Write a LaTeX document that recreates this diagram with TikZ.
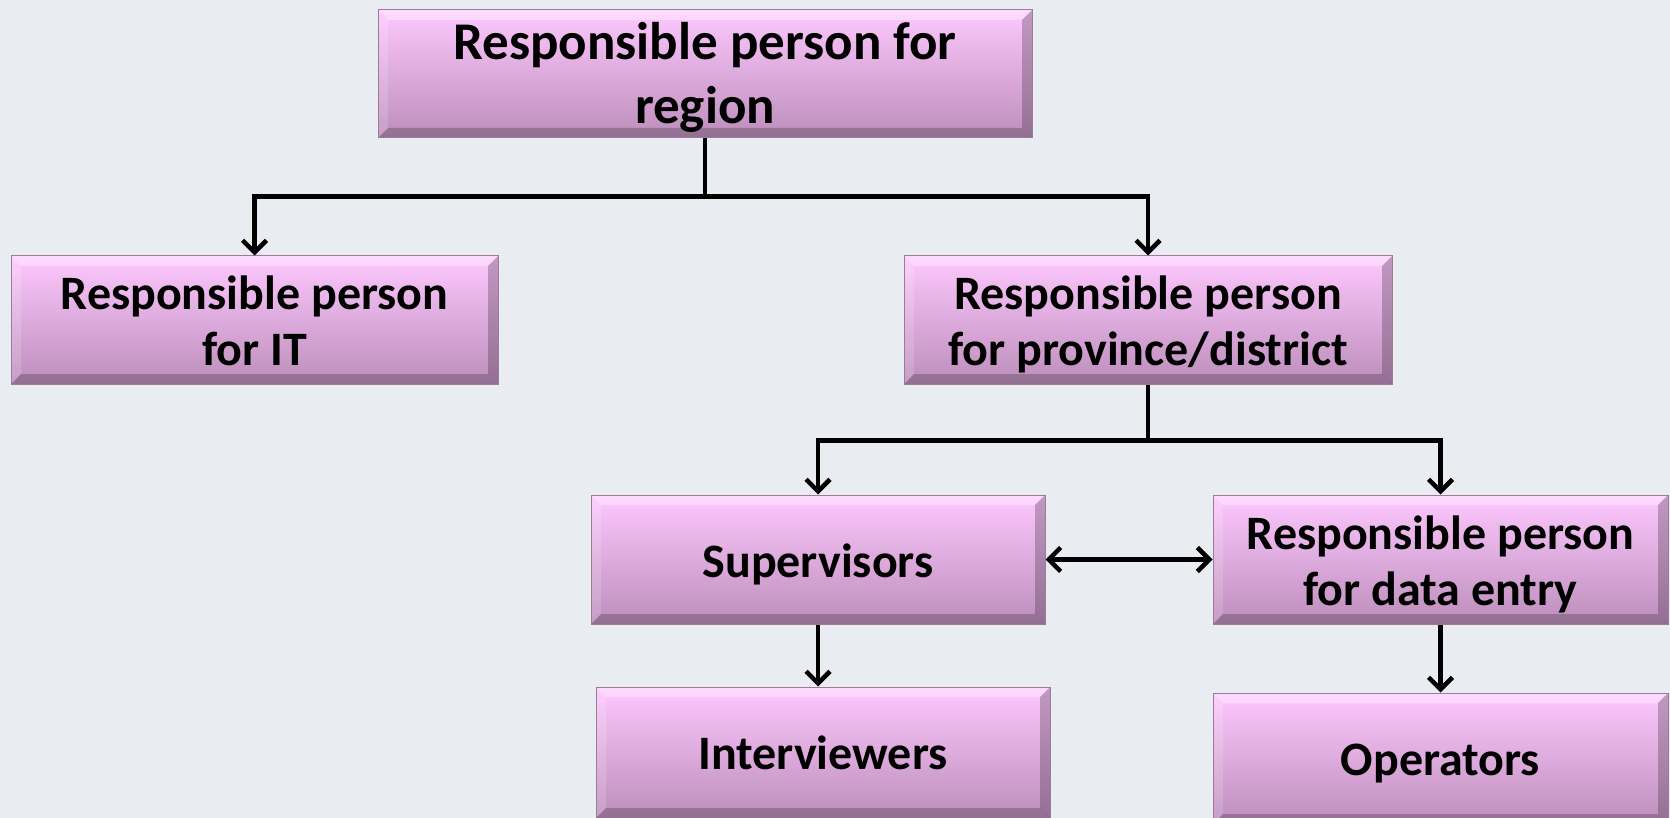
\documentclass[tikz,border=0pt]{standalone}
\usepackage{fontspec}
\setmainfont{Carlito}
\usetikzlibrary{arrows.meta}
\definecolor{bg}{HTML}{E9ECF1}
\definecolor{boxtop}{HTML}{FEC8FE}
\definecolor{boxbot}{HTML}{BC8EBB}
\definecolor{boxedge}{HTML}{9C7A9C}
\newcommand\lowtext[2]{\raisebox{-#1}[\height][\depth]{\begin{tabular}{@{}c@{}}#2\end{tabular}}}
\tikzset{
  pbox/.style={draw=boxedge, line width=1pt, top color=boxtop, bottom color=boxbot,
    align=center, font=\bfseries\fontsize{48}{56}\selectfont, inner sep=0pt,
    path picture={
      \coordinate (nw) at (path picture bounding box.north west);
      \coordinate (ne) at (path picture bounding box.north east);
      \coordinate (sw) at (path picture bounding box.south west);
      \coordinate (se) at (path picture bounding box.south east);
      \fill[white,opacity=0.35] (nw) -- (ne) -- ([shift={(-10,10)}]ne) -- ([shift={(10,10)}]nw) -- cycle;
      \fill[white,opacity=0.15] (nw) -- ([shift={(10,10)}]nw) -- ([shift={(10,-10)}]sw) -- (sw) -- cycle;
      \fill[black!70!boxbot,opacity=0.3] (sw) -- (se) -- ([shift={(-10,-10)}]se) -- ([shift={(10,-10)}]sw) -- cycle;
      \fill[black!70!boxbot,opacity=0.3] (ne) -- ([shift={(-10,10)}]ne) -- ([shift={(-10,-10)}]se) -- (se) -- cycle;
    }},
  tip/.tip={Straight Barb[length=12pt,width=24pt,line width=4.5pt]},
  conn/.style={line width=4.5pt, -tip},
  dconn/.style={line width=4.5pt, tip-tip}
}
\begin{document}
\begin{tikzpicture}[x=1pt,y=-1pt]
\fill[bg] (0,0) rectangle (1670,818);
\useasboundingbox (0,0) rectangle (1670,818);

\node[pbox, minimum width=654pt, minimum height=128pt, font=\bfseries\fontsize{53}{64}\selectfont] (top) at (705,74) {\lowtext{5pt}{Responsible person for\\region}};
\node[pbox, minimum width=487pt, minimum height=128pt] (it) at (254.5,320) {\lowtext{6pt}{Responsible person\\for IT}};
\node[pbox, minimum width=488pt, minimum height=128pt] (prov) at (1148,320) {\lowtext{6pt}{Responsible person\\for province/district}};
\node[pbox, minimum width=454pt, minimum height=129pt] (sup) at (818,559.5) {\lowtext{7pt}{Supervisors}};
\node[pbox, minimum width=455pt, minimum height=129pt] (data) at (1440.5,559.5) {\lowtext{7pt}{Responsible person\\for data entry}};
\node[pbox, minimum width=454pt, minimum height=131pt] (intv) at (823,752.5) {Interviewers};
\node[pbox, minimum width=455pt, minimum height=131pt] (ops) at (1440.5,758.5) {\lowtext{6pt}{Operators}};

\draw[conn] (top.south) -- ++(0,58) -| (it.north);
\draw[conn] (top.south) -- ++(0,58) -| (prov.north);
\draw[conn] (prov.south) -- ++(0,56) -| (sup.north);
\draw[conn] (prov.south) -- ++(0,56) -| (data.north);
\draw[dconn] (sup.east) -- (data.west);
\draw[conn] (sup.south) -- (sup.south |- intv.north);
\draw[conn] (data.south) -- (ops.north);
\end{tikzpicture}
\end{document}
